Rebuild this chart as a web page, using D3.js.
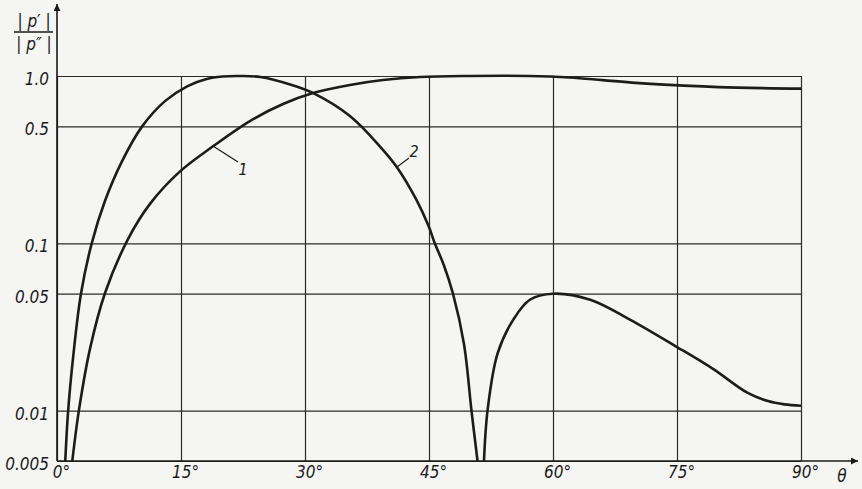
<!DOCTYPE html>
<html lang="en">
<head>
<meta charset="utf-8">
<title>Directionality |p'|/|p''| vs theta</title>
<script src="https://cdn.jsdelivr.net/npm/d3@7"></script>
<style>
  body { margin: 0; background: #f5f5f3; }
  svg text {
    font-family: "DejaVu Sans Condensed", "Liberation Sans Narrow", "DejaVu Sans", sans-serif;
    font-style: oblique;
    fill: #1a1a1a;
  }
  .grid line { stroke: #2a2a2a; stroke-width: 1.2; }
  .grid path { display: none; }
  .ticklab path, .ticklab line { display: none; }
  .ticklab text { font-size: 17px; }
  .curve { fill: none; stroke: #1c1c1c; stroke-width: 2.6; }
</style>
</head>
<body>
<script>
// ---- data ----
// theta (deg) vs |p'|/|p''|
var curve1 = [[1.85,0.005],[2.66,0.0101],[3.99,0.0234],[5.81,0.0505],[8.59,0.106],
  [11.25,0.172],[14.88,0.269],[18.87,0.38],[23.34,0.538],[27.34,0.68],[30.97,0.791],
  [35.44,0.884],[39.43,0.946],[43.9,0.986],[50,1.0],[57,1.0],[62,0.98],[66,0.945],
  [70,0.91],[74,0.885],[80,0.858],[90,0.84]];

var curve2Main = [[1.0,0.005],[1.35,0.01],[2.0,0.022],[2.9,0.05],[4.2,0.1],[5.8,0.179],
  [7.86,0.309],[10.3,0.5],[13.1,0.71],[15.8,0.871],[18.1,0.96],[20,0.993],[22.1,1.0],
  [24.6,0.986],[28.2,0.89],[31,0.79],[35.4,0.578],[39.05,0.38],[41.1,0.286],[43.5,0.181],
  [45,0.125],[45.7,0.1],[46.8,0.074],[47.9,0.05],[49.23,0.025],[50.14,0.01],[50.87,0.005]];

var curve2Lobe = [[51.65,0.005],[52.1,0.0102],[53.3,0.022],[55.2,0.035],[57.2,0.046],
  [60,0.05],[64.5,0.046],[69.3,0.035],[75,0.024],[79.4,0.0177],[83.5,0.0128],
  [86,0.0114],[88,0.0109],[90,0.0107]];

var xTicks = [0, 15, 30, 45, 60, 75, 90];
var yTicks = [1.0, 0.5, 0.1, 0.05, 0.01, 0.005];
var yTickLabels = ["1.0", "0.5", "0.1", "0.05", "0.01", "0.005"];

// ---- layout ----
var w = 862, h = 489;
var padL = 57, padR = 801, padT = 76, padB = 461;

var svg = d3.select("body").append("svg")
  .attr("width", w)
  .attr("height", h);

var x = d3.scaleLinear().domain([0, 90]).range([padL, padR]);
var y = d3.scaleLog().domain([0.005, 1]).range([padB, padT]);

var defs = svg.append("defs");

// arrow head
defs.append("marker")
  .attr("id", "arrow")
  .attr("viewBox", "0 0 10 10")
  .attr("refX", 10).attr("refY", 5)
  .attr("markerWidth", 14).attr("markerHeight", 7)
  .attr("markerUnits", "userSpaceOnUse")
  .attr("orient", "auto")
  .append("path")
  .attr("d", "M0,0 L10,5 L0,10 Z")
  .attr("fill", "#1a1a1a");

// keep curves inside the frame
defs.append("clipPath")
  .attr("id", "plot")
  .append("rect")
  .attr("x", padL).attr("y", padT - 3)
  .attr("width", padR - padL).attr("height", padB - padT + 3);

// grid
svg.append("g")
  .attr("class", "grid")
  .attr("transform", "translate(" + padL + ",0)")
  .call(d3.axisLeft(y).tickValues(yTicks).tickSize(-(padR - padL)).tickFormat(""));

svg.append("g")
  .attr("class", "grid")
  .attr("transform", "translate(0," + padB + ")")
  .call(d3.axisBottom(x).tickValues(xTicks).tickSize(-(padB - padT)).tickFormat(""));

// axes with arrows
svg.append("line")
  .attr("x1", padL).attr("y1", padB)
  .attr("x2", padL).attr("y2", 4)
  .attr("stroke", "#1a1a1a").attr("stroke-width", 1.6)
  .attr("marker-end", "url(#arrow)");

svg.append("line")
  .attr("x1", padL).attr("y1", padB)
  .attr("x2", 858).attr("y2", padB)
  .attr("stroke", "#1a1a1a").attr("stroke-width", 1.6)
  .attr("marker-end", "url(#arrow)");

// tick labels
var yLab = svg.append("g")
  .attr("class", "ticklab")
  .attr("transform", "translate(" + padL + ",0)")
  .call(d3.axisLeft(y).tickValues(yTicks).tickSize(0).tickPadding(8)
    .tickFormat(function(d, i) { return yTickLabels[i]; }));
yLab.selectAll("text").attr("dy", "0.5em");

var xLab = svg.append("g")
  .attr("class", "ticklab")
  .attr("transform", "translate(0," + padB + ")")
  .call(d3.axisBottom(x).tickValues(xTicks).tickSize(0).tickPadding(5)
    .tickFormat(function(d) { return d + "\u00b0"; }));
xLab.selectAll("text").attr("dx", "4");

svg.append("text")
  .attr("x", 842).attr("y", 482)
  .attr("text-anchor", "middle")
  .style("font-size", "17px")
  .text("\u03b8");

// y label as a fraction
svg.append("text")
  .attr("x", 34).attr("y", 27)
  .attr("text-anchor", "middle")
  .style("font-size", "17px")
  .text("| p\u2032 |");
svg.append("line")
  .attr("x1", 14).attr("x2", 53)
  .attr("y1", 32).attr("y2", 32)
  .attr("stroke", "#1a1a1a").attr("stroke-width", 1.4);
svg.append("text")
  .attr("x", 34).attr("y", 50)
  .attr("text-anchor", "middle")
  .style("font-size", "17px")
  .text("| p\u2033 |");

// curves
var line = d3.line()
  .x(function(d) { return x(d[0]); })
  .y(function(d) { return y(d[1]); })
  .curve(d3.curveCatmullRom.alpha(0.5));

var curves = svg.append("g").attr("clip-path", "url(#plot)");
[curve1, curve2Main, curve2Lobe].forEach(function(s) {
  curves.append("path")
    .attr("class", "curve")
    .attr("d", line(s));
});

// curve labels with leaders
svg.append("line")
  .attr("x1", 213).attr("y1", 146).attr("x2", 238).attr("y2", 162)
  .attr("stroke", "#1a1a1a").attr("stroke-width", 1.2);
svg.append("text")
  .attr("x", 243).attr("y", 175)
  .attr("text-anchor", "middle")
  .style("font-size", "16px")
  .text("1");

svg.append("line")
  .attr("x1", 397).attr("y1", 167).attr("x2", 409).attr("y2", 158)
  .attr("stroke", "#1a1a1a").attr("stroke-width", 1.2);
svg.append("text")
  .attr("x", 414).attr("y", 157)
  .attr("text-anchor", "middle")
  .style("font-size", "16px")
  .text("2");
</script>
</body>
</html>
